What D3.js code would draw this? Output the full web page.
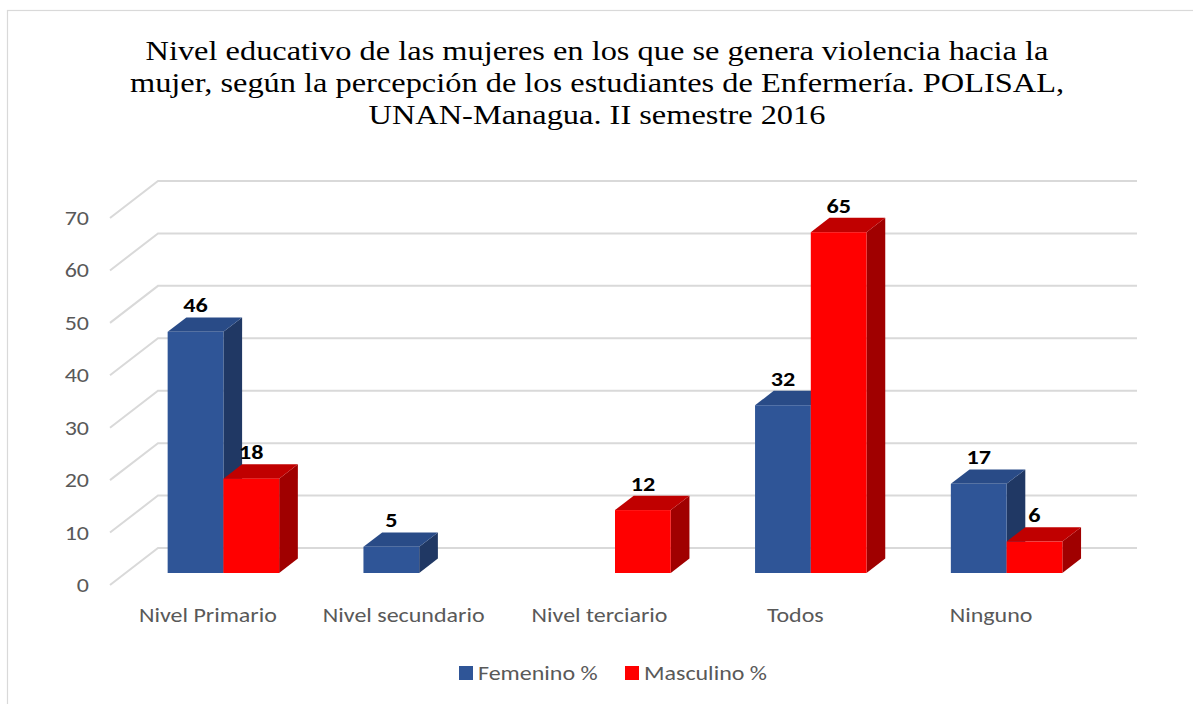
<!DOCTYPE html>
<html>
<head>
<meta charset="utf-8">
<script src="https://cdn.jsdelivr.net/npm/d3@7"></script>
<style>
  body { margin: 0; background: #fff; }
  svg { display: block; }
</style>
</head>
<body>
<div id="chart"></div>
<script>
// datos del gráfico
const categorias = ['Nivel Primario', 'Nivel secundario', 'Nivel terciario', 'Todos', 'Ninguno'];
const series = ['Femenino %', 'Masculino %'];
const femenino = [46, 5, 0, 32, 17];
const masculino = [18, 0, 12, 65, 6];
const ticksY = [0, 10, 20, 30, 40, 50, 60, 70];
const tituloLineas = [
    'Nivel educativo de las mujeres en los que se genera violencia hacia la',
    'mujer, según la percepción de los estudiantes de Enfermería. POLISAL,',
    'UNAN-Managua. II semestre 2016'
];

const width = 1193;
const height = 704;
const sans = 'Calibri, Carlito, Lato, "Open Sans", sans-serif';
const estiramiento = 1.2; // la imagen original está estirada en horizontal

const colores = {
    'Femenino %': { front: '#2F5597', top: '#294B87', side: '#203864' },
    'Masculino %': { front: '#FF0000', top: '#C00000', side: '#A00000' }
};

// profundidad 3D (desplazamiento de la pared del fondo hacia el frente)
const fondoX = -48, fondoY = 37;
const frenteBarra = { dx: -32.5, dy: 25 };
const atrasBarra = { dx: 18.7, dy: -14.4 };

const svg = d3.select('#chart')
    .append('svg')
    .attr('width', width)
    .attr('height', height);

const posicion = (x, yy, k = estiramiento) => `translate(${x},${yy}) scale(${k},1)`;

// borde
svg.append('rect')
    .attr('x', 7.5).attr('y', 10.5)
    .attr('width', 1220).attr('height', 740)
    .attr('fill', '#fff')
    .attr('stroke', '#d9d9d9')
    .attr('stroke-width', 1.2);

// título
svg.append('g')
    .selectAll('text')
    .data(tituloLineas)
    .join('text')
    .attr('transform', (d, i) => posicion(597, 60 + i * 32))
    .attr('text-anchor', 'middle')
    .attr('font-family', '"Times New Roman", "Liberation Serif", serif')
    .attr('font-size', 27)
    .attr('fill', '#000')
    .text(d => d);

// escalas (en la pared del fondo)
const y = d3.scaleLinear().domain([0, 70]).range([548, 181]);
const x0 = d3.scaleBand().domain(categorias).range([158, 1137]);
const x1 = d3.scaleBand().domain(series).range([-55.75, 55.75]);

// líneas de cuadrícula
const grid = svg.append('g');
ticksY.forEach(t => {
    const yb = y(t);
    grid.append('path')
        .attr('d', `M ${158 + fondoX} ${yb + fondoY} L 158 ${yb} L 1137 ${yb}`)
        .attr('fill', 'none')
        .attr('stroke', '#d9d9d9')
        .attr('stroke-width', 2);
});

// etiquetas eje Y
svg.append('g')
    .selectAll('text')
    .data(ticksY)
    .join('text')
    .attr('transform', d => posicion(89, y(d) + fondoY))
    .attr('dy', '0.35em')
    .attr('text-anchor', 'end')
    .attr('font-family', sans)
    .attr('font-size', 20)
    .attr('fill', '#595959')
    .text(d => d);

// etiquetas de categoría
svg.append('g')
    .selectAll('text')
    .data(categorias)
    .join('text')
    .attr('transform', d => posicion(x0(d) + x0.bandwidth() / 2 + fondoX, 615))
    .attr('dy', '0.35em')
    .attr('text-anchor', 'middle')
    .attr('font-family', sans)
    .attr('font-size', 20)
    .attr('fill', '#595959')
    .text(d => d);

// barras 3D
const datos = [];
categorias.forEach((c, i) => {
    datos.push({ cat: c, serie: 'Femenino %', valor: femenino[i] });
    datos.push({ cat: c, serie: 'Masculino %', valor: masculino[i] });
});

const barras = svg.append('g');
datos.filter(d => d.valor > 0).forEach(d => {
    const col = colores[d.serie];
    const xl = x0(d.cat) + x0.bandwidth() / 2 + x1(d.serie) + frenteBarra.dx;
    const w = x1.bandwidth();
    const yt = y(d.valor) + frenteBarra.dy;
    const yb = y(0) + frenteBarra.dy;
    const ax = atrasBarra.dx, ay = atrasBarra.dy;
    const g = barras.append('g');

    // lado
    g.append('path')
        .attr('d', `M ${xl + w} ${yt} L ${xl + w + ax} ${yt + ay} L ${xl + w + ax} ${yb + ay} L ${xl + w} ${yb} Z`)
        .attr('fill', col.side);
    // techo
    g.append('path')
        .attr('d', `M ${xl} ${yt} L ${xl + ax} ${yt + ay} L ${xl + w + ax} ${yt + ay} L ${xl + w} ${yt} Z`)
        .attr('fill', col.top);
    // frente
    g.append('rect')
        .attr('x', xl).attr('y', yt)
        .attr('width', w).attr('height', yb - yt)
        .attr('fill', col.front);

    // etiqueta de valor
    g.append('text')
        .attr('transform', posicion(xl + w / 2, yt + ay - 5, 1.15))
        .attr('text-anchor', 'middle')
        .attr('font-family', sans)
        .attr('font-weight', 'bold')
        .attr('font-size', 21)
        .attr('fill', '#000')
        .text(d.valor);
});

// leyenda
const leyenda = svg.append('g');
const posLeyenda = [459, 625];
series.forEach((s, i) => {
    leyenda.append('rect')
        .attr('x', posLeyenda[i]).attr('y', 666)
        .attr('width', 14).attr('height', 14)
        .attr('fill', colores[s].front);
    leyenda.append('text')
        .attr('transform', posicion(posLeyenda[i] + 19, 673))
        .attr('dy', '0.35em')
        .attr('font-family', sans)
        .attr('font-size', 20)
        .attr('fill', '#595959')
        .text(s);
});
</script>
</body>
</html>
